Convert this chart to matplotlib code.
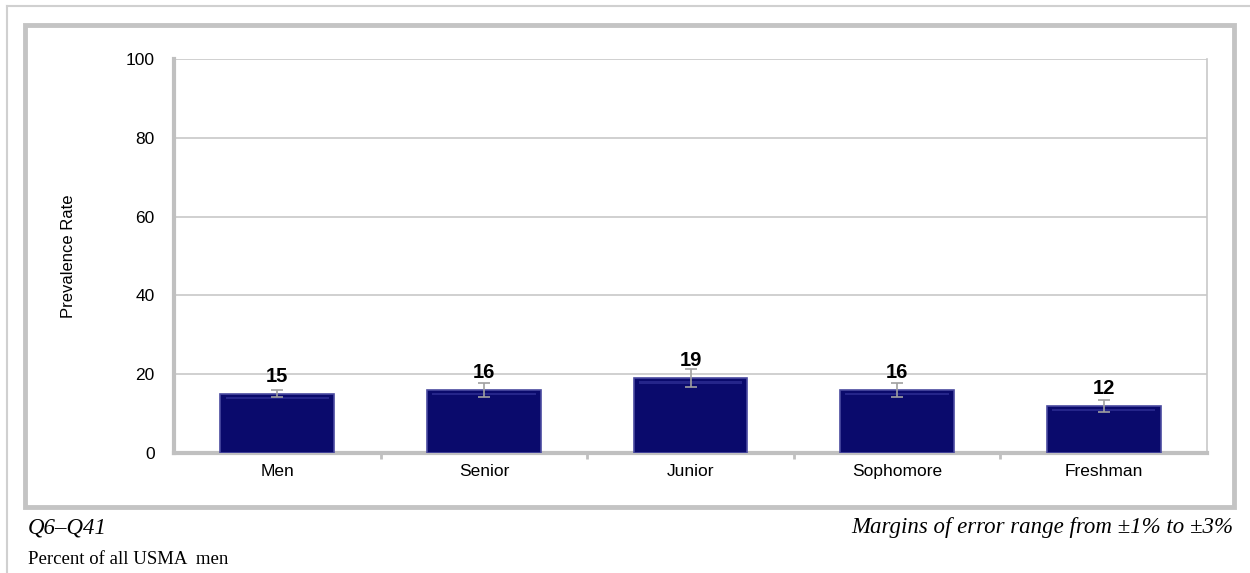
import numpy as np
import matplotlib.pyplot as plt
from matplotlib.patches import Rectangle
from matplotlib.lines import Line2D

categories = ["Men", "Senior", "Junior", "Sophomore", "Freshman"]
rates = [15, 16, 19, 16, 12]
errors = [0.9, 1.8, 2.3, 1.7, 1.5]

W, H = 1250, 573
fig = plt.figure(figsize=(W / 100, H / 100), dpi=100)
fig.patch.set_facecolor("white")

# frames around the chart (pixel coords -> figure fraction)
def fx(px):
    return px / W

def fy(py):
    return 1 - py / H

fig.add_artist(Line2D([fx(7), fx(7)], [fy(6), 0], color="#d0d0d0", lw=1.5))
fig.add_artist(Line2D([fx(7), 1], [fy(6), fy(6)], color="#d0d0d0", lw=1.5))
fig.add_artist(Rectangle((fx(25), fy(507)), fx(1234) - fx(25), fy(25) - fy(507),
                         fill=False, ec="#c4c4c4", lw=3.5))

ax = fig.add_axes([fx(174), fy(453), fx(1207) - fx(174), fy(59) - fy(453)])
x = np.arange(len(categories))
ax.bar(x, rates, width=0.55, color="#0a0a6c", edgecolor="#4a4aa0", linewidth=1.2, zorder=3)
# light bevel along the top of each bar
ax.bar(x, [0.6] * len(x), bottom=np.array(rates) - 1.4, width=0.5, color="#25258a",
       linewidth=0, zorder=3)
ax.errorbar(x, rates, yerr=errors, fmt="none", ecolor="#a0a0a0", elinewidth=1.2,
            capsize=4, capthick=1.2, zorder=4)
for xi, v in zip(x, rates):
    ax.text(xi, v + 4.4, str(v), ha="center", va="center",
            fontsize=14.5, fontweight="bold", family="Liberation Sans")

ax.set_xlim(-0.5, len(categories) - 0.5)
ax.set_ylim(0, 100)
ax.set_yticks(range(0, 101, 20))
ax.yaxis.grid(True, color="#c8c8c8", lw=1.2, zorder=0)
ax.set_axisbelow(True)
ax.set_xticks(x)
ax.set_xticklabels(categories, family="Liberation Sans", fontsize=12.5)
ax.tick_params(axis="x", length=0, pad=8)
ax.tick_params(axis="y", length=0, pad=14, labelsize=12.5)
for lab in ax.get_yticklabels():
    lab.set_family("Liberation Sans")
ax.set_xticks(np.arange(0.5, len(categories) - 0.5), minor=True)
ax.tick_params(axis="x", which="minor", length=4, width=2, color="#c0c0c0")

ax.spines["left"].set_color("#c0c0c0")
ax.spines["left"].set_linewidth(3)
ax.spines["bottom"].set_color("#c0c0c0")
ax.spines["bottom"].set_linewidth(3)
ax.spines["top"].set_visible(False)
ax.spines["right"].set_color("#c8c8c8")
ax.spines["right"].set_linewidth(1.2)
ax.set_ylabel("Prevalence Rate", family="Liberation Sans", fontsize=12, labelpad=36)

fig.text(fx(28), fy(528), "Q6\u2013Q41", family="Liberation Serif", style="italic",
         fontsize=16.5, va="center", ha="left")
fig.text(fx(28), fy(559), "Percent of all USMA  men", family="Liberation Serif",
         fontsize=13.5, va="center", ha="left")
fig.text(fx(1233), fy(528), "Margins of error range from \u00b11% to \u00b13%",
         family="Liberation Serif", style="italic", fontsize=16.5, va="center", ha="right")

fig.savefig("out.png", dpi=100)
